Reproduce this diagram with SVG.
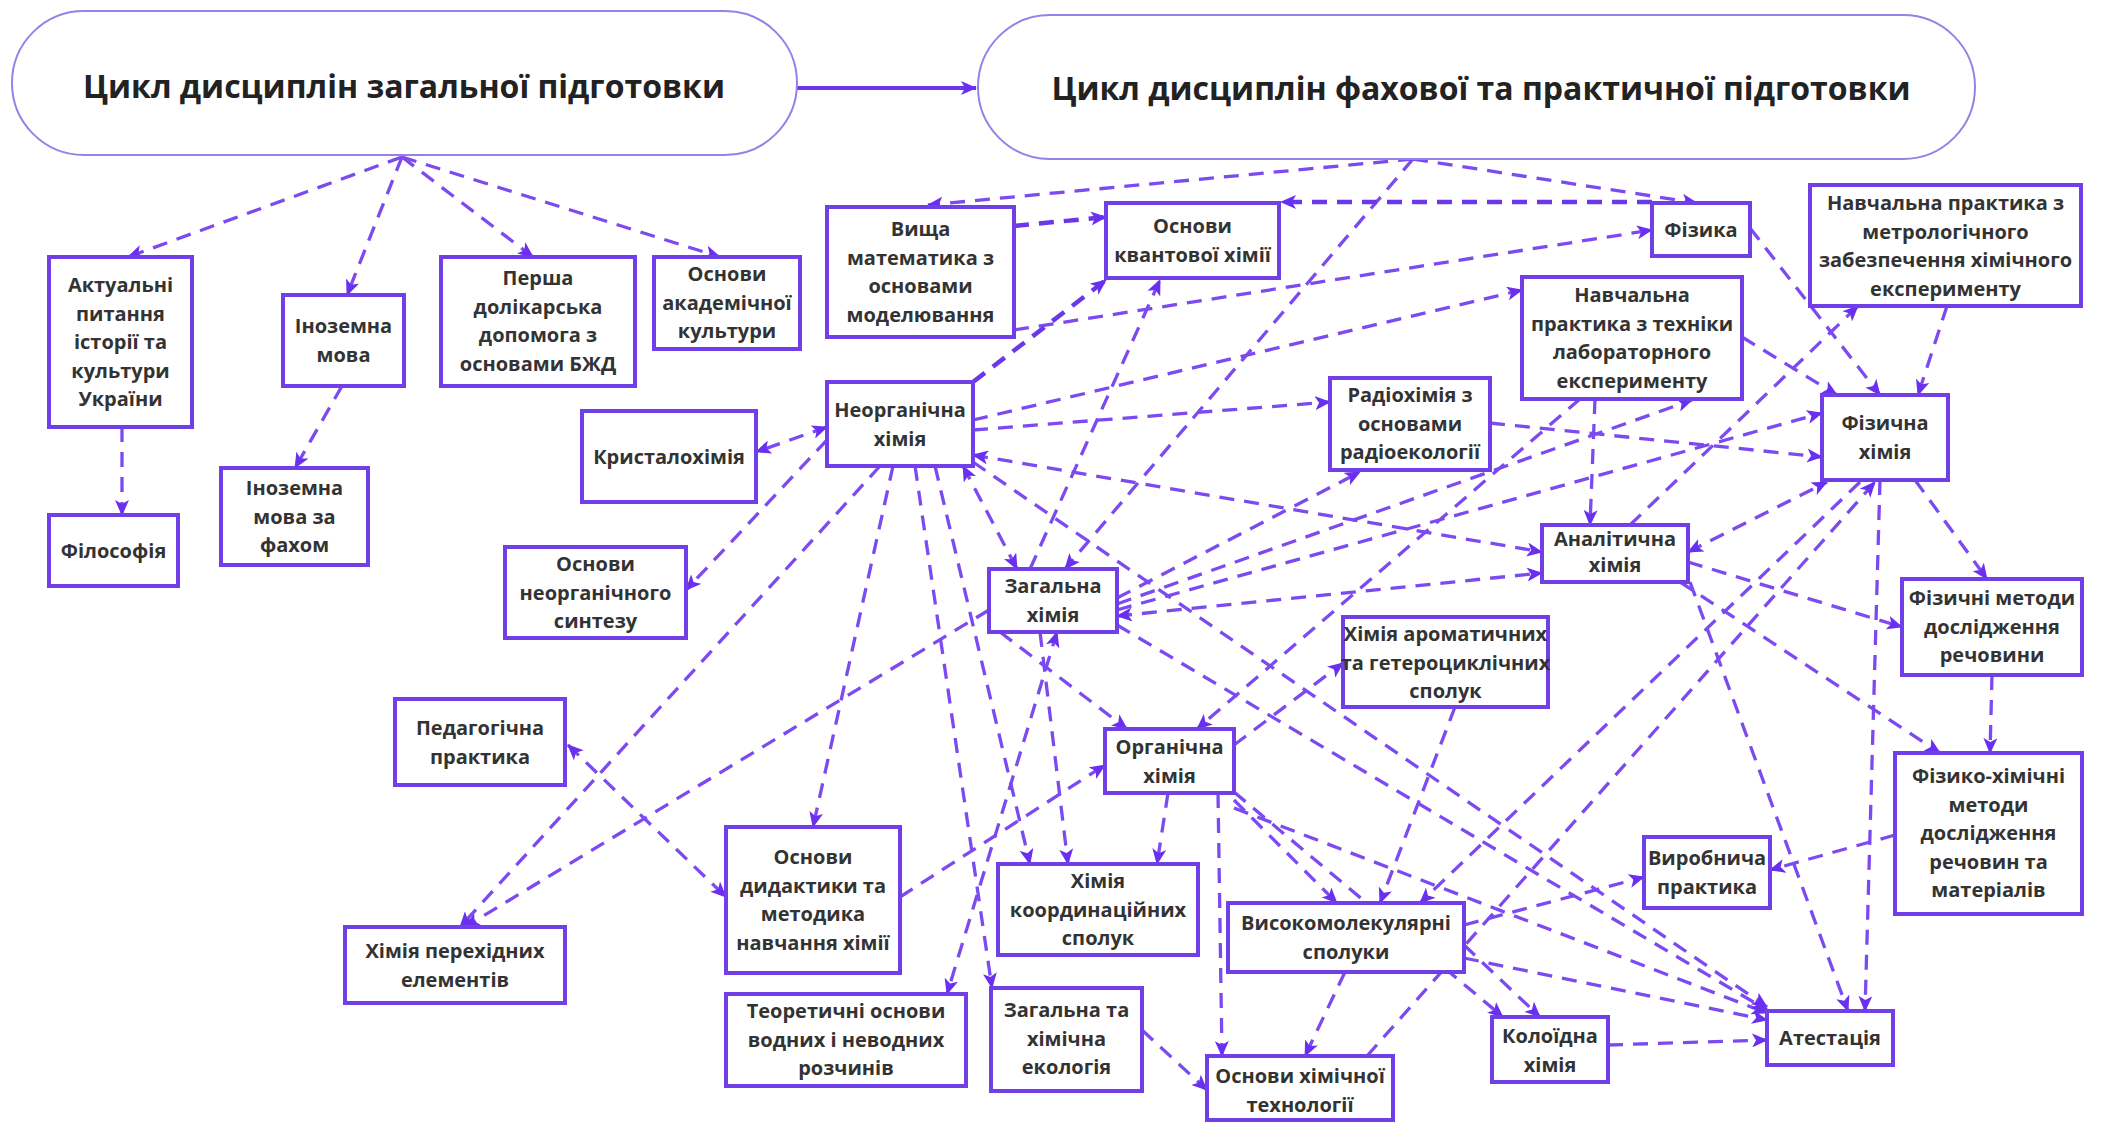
<svg xmlns="http://www.w3.org/2000/svg" width="2105" height="1126" viewBox="0 0 2105 1126">
<defs>
<marker id="ah" viewBox="0 0 16 14" refX="15" refY="7" markerWidth="16" markerHeight="14" markerUnits="userSpaceOnUse" orient="auto-start-reverse">
<path d="M0,0 L16,7 L0,14 L4,7 Z" fill="#6a2ff0"/>
</marker>
</defs>
<style>
.pill{fill:#fff;stroke:#9a7fe6;stroke-width:2}
.ttl{font-family:"Open Sans","Noto Sans",sans-serif;font-weight:700;font-size:32px;fill:#222;text-anchor:middle}
.box{fill:#fff;stroke:#7040e6;stroke-width:4}
.lbl{font-family:"Open Sans","Noto Sans",sans-serif;font-weight:700;font-size:20px;fill:#333;text-anchor:middle}
.e{fill:none;stroke:#7b4af0;stroke-width:3.3;stroke-dasharray:15 10;marker-end:url(#ah)}
.b{marker-start:url(#ah)}
.t{stroke-width:4.5;stroke:#6a38e8}
.solid{fill:none;stroke:#6a38e8;stroke-width:4;marker-end:url(#ah)}
</style>
<rect width="2105" height="1126" fill="#fff"/>

<g id="connectors">
<path class="solid" d="M797,88 L976,88"/>
<path class="e" d="M402,157 L128,257"/>
<path class="e" d="M402,157 L347,295"/>
<path class="e" d="M402,157 L533,257"/>
<path class="e" d="M402,157 L720,257"/>
<path class="e" d="M122,427 L122,515"/>
<path class="e" d="M342,386 L295,468"/>
<path class="e" d="M1413,159 L928,205"/>
<path class="e" d="M1413,159 L1697,203"/>
<path class="e" d="M1413,159 L1065,569"/>
<path class="e t" d="M1652,202 L1281,202"/>
<path class="e t" d="M1014,226 L1106,217"/>
<path class="e" d="M1014,330 L1652,230"/>
<path class="e t" d="M973,382 L1106,280"/>
<path class="e" d="M1030,569 L1160,280"/>
<path class="e" d="M973,420 L1522,290"/>
<path class="e" d="M973,430 L1330,402"/>
<path class="e b" d="M973,455 L1542,552"/>
<path class="e" d="M1117,598 L1360,472"/>
<path class="e" d="M1117,604 L1692,400"/>
<path class="e" d="M1117,610 L1822,413"/>
<path class="e b" d="M1117,616 L1542,573"/>
<path class="e" d="M1490,423 L1822,457"/>
<path class="e" d="M1595,399 L1590,525"/>
<path class="e" d="M1630,525 L1858,306"/>
<path class="e" d="M1750,228 L1880,395"/>
<path class="e" d="M1742,337 L1837,395"/>
<path class="e" d="M1947,306 L1918,395"/>
<path class="e" d="M1915,480 L1987,579"/>
<path class="e" d="M1992,675 L1990,753"/>
<path class="e" d="M1688,562 L1902,627"/>
<path class="e" d="M1680,582 L1940,753"/>
<path class="e" d="M1690,582 L1848,1011"/>
<path class="e" d="M1880,480 L1865,1011"/>
<path class="e" d="M1895,835 L1770,870"/>
<path class="e b" d="M1688,552 L1827,482"/>
<path class="e" d="M1860,482 L1420,903"/>
<path class="e" d="M1367,1056 L1875,482"/>
<path class="e" d="M1464,925 L1644,877"/>
<path class="e" d="M1464,945 L1540,1017"/>
<path class="e" d="M1464,958 L1767,1020"/>
<path class="e" d="M1345,972 L1305,1056"/>
<path class="e" d="M1218,793 L1222,1056"/>
<path class="e" d="M1142,1030 L1207,1090"/>
<path class="e" d="M1608,1045 L1767,1040"/>
<path class="e" d="M1234,800 L1337,903"/>
<path class="e" d="M1234,808 L1767,1013"/>
<path class="e" d="M1234,792 L1503,1017"/>
<path class="e" d="M1455,707 L1380,903"/>
<path class="e" d="M1234,745 L1343,663"/>
<path class="e" d="M1000,632 L1127,729"/>
<path class="e" d="M1580,399 L1197,729"/>
<path class="e" d="M1040,632 L1068,864"/>
<path class="e" d="M1168,793 L1157,864"/>
<path class="e b" d="M1057,632 L947,994"/>
<path class="e" d="M880,466 L460,927"/>
<path class="e" d="M989,610 L465,927"/>
<path class="e" d="M893,466 L813,827"/>
<path class="e" d="M915,466 L992,988"/>
<path class="e" d="M935,466 L1030,864"/>
<path class="e b" d="M568,745 L726,897"/>
<path class="e" d="M900,897 L1105,765"/>
<path class="e b" d="M827,427 L756,452"/>
<path class="e" d="M827,440 L686,590"/>
<path class="e b" d="M963,466 L1017,569"/>
<path class="e" d="M973,462 L1767,1007"/>
<path class="e" d="M1117,625 L1767,1010"/>
</g>

<g id="pill1"><rect class="pill" x="12" y="11" width="785" height="144" rx="72"/><text class="ttl" x="404" y="98">Цикл дисциплін загальної підготовки</text></g>
<g id="pill2"><rect class="pill" x="978" y="15" width="997" height="144" rx="72"/><text class="ttl" x="1481" y="100">Цикл дисциплін фахової та практичної підготовки</text></g>

<g id="n_aktualni"><rect class="box" x="49" y="257" width="143" height="170"/><text class="lbl" x="120.5" y="292">Актуальні<tspan x="120.5" dy="28.5">питання</tspan><tspan x="120.5" dy="28.5">історії та</tspan><tspan x="120.5" dy="28.5">культури</tspan><tspan x="120.5" dy="28.5">України</tspan></text></g>
<g id="n_inozemna"><rect class="box" x="283" y="295" width="121" height="91"/><text class="lbl" x="343.5" y="333">Іноземна<tspan x="343.5" dy="28.5">мова</tspan></text></g>
<g id="n_persha"><rect class="box" x="441" y="257" width="194" height="129"/><text class="lbl" x="538" y="285">Перша<tspan x="538" dy="28.5">долікарська</tspan><tspan x="538" dy="28.5">допомога з</tspan><tspan x="538" dy="28.5">основами БЖД</tspan></text></g>
<g id="n_akadem"><rect class="box" x="654" y="257" width="146" height="92"/><text class="lbl" x="727" y="281">Основи<tspan x="727" dy="28.5">академічної</tspan><tspan x="727" dy="28.5">культури</tspan></text></g>
<g id="n_vyshcha"><rect class="box" x="827" y="207" width="187" height="130"/><text class="lbl" x="920.5" y="236">Вища<tspan x="920.5" dy="28.5">математика з</tspan><tspan x="920.5" dy="28.5">основами</tspan><tspan x="920.5" dy="28.5">моделювання</tspan></text></g>
<g id="n_kvant"><rect class="box" x="1106" y="203" width="173" height="75"/><text class="lbl" x="1192.5" y="233">Основи<tspan x="1192.5" dy="28.5">квантової хімії</tspan></text></g>
<g id="n_fizyka"><rect class="box" x="1652" y="203" width="98" height="53"/><text class="lbl" x="1701" y="237">Фізика</text></g>
<g id="n_metrol"><rect class="box" x="1810" y="185" width="271" height="121"/><text class="lbl" x="1945.5" y="210">Навчальна практика з<tspan x="1945.5" dy="28.5">метрологічного</tspan><tspan x="1945.5" dy="28.5">забезпечення хімічного</tspan><tspan x="1945.5" dy="28.5">експерименту</tspan></text></g>
<g id="n_tekhn"><rect class="box" x="1522" y="277" width="220" height="122"/><text class="lbl" x="1632" y="302">Навчальна<tspan x="1632" dy="28.5">практика з техніки</tspan><tspan x="1632" dy="28.5">лабораторного</tspan><tspan x="1632" dy="28.5">експерименту</tspan></text></g>
<g id="n_filos"><rect class="box" x="49" y="515" width="129" height="71"/><text class="lbl" x="113.5" y="558">Філософія</text></g>
<g id="n_inozfah"><rect class="box" x="221" y="468" width="147" height="97"/><text class="lbl" x="294.5" y="495">Іноземна<tspan x="294.5" dy="28.5">мова за</tspan><tspan x="294.5" dy="28.5">фахом</tspan></text></g>
<g id="n_kryst"><rect class="box" x="582" y="411" width="174" height="91"/><text class="lbl" x="669" y="464">Кристалохімія</text></g>
<g id="n_neorg"><rect class="box" x="827" y="382" width="146" height="84"/><text class="lbl" x="900" y="417">Неорганічна<tspan x="900" dy="28.5">хімія</tspan></text></g>
<g id="n_synt"><rect class="box" x="505" y="547" width="181" height="91"/><text class="lbl" x="595.5" y="571">Основи<tspan x="595.5" dy="28.5">неорганічного</tspan><tspan x="595.5" dy="28.5">синтезу</tspan></text></g>
<g id="n_radio"><rect class="box" x="1330" y="378" width="160" height="92"/><text class="lbl" x="1410" y="402">Радіохімія з<tspan x="1410" dy="28.5">основами</tspan><tspan x="1410" dy="28.5">радіоекології</tspan></text></g>
<g id="n_fizchem"><rect class="box" x="1822" y="395" width="126" height="85"/><text class="lbl" x="1885" y="430">Фізична<tspan x="1885" dy="28.5">хімія</tspan></text></g>
<g id="n_anal"><rect class="box" x="1542" y="525" width="146" height="57"/><text class="lbl" x="1615" y="546">Аналітична<tspan x="1615" dy="26">хімія</tspan></text></g>
<g id="n_zag"><rect class="box" x="989" y="569" width="128" height="63"/><text class="lbl" x="1053" y="593">Загальна<tspan x="1053" dy="28.5">хімія</tspan></text></g>
<g id="n_arom"><rect class="box" x="1343" y="617" width="205" height="90"/><text class="lbl" x="1445.5" y="641">Хімія ароматичних<tspan x="1445.5" dy="28.5">та гетероциклічних</tspan><tspan x="1445.5" dy="28.5">сполук</tspan></text></g>
<g id="n_fizmet"><rect class="box" x="1902" y="579" width="180" height="96"/><text class="lbl" x="1992" y="605">Фізичні методи<tspan x="1992" dy="28.5">дослідження</tspan><tspan x="1992" dy="28.5">речовини</tspan></text></g>
<g id="n_ped"><rect class="box" x="395" y="699" width="170" height="86"/><text class="lbl" x="480" y="735">Педагогічна<tspan x="480" dy="28.5">практика</tspan></text></g>
<g id="n_org"><rect class="box" x="1105" y="729" width="129" height="64"/><text class="lbl" x="1169.5" y="754">Органічна<tspan x="1169.5" dy="28.5">хімія</tspan></text></g>
<g id="n_fizkhim"><rect class="box" x="1895" y="753" width="187" height="161"/><text class="lbl" x="1988.5" y="783">Фізико-хімічні<tspan x="1988.5" dy="28.5">методи</tspan><tspan x="1988.5" dy="28.5">дослідження</tspan><tspan x="1988.5" dy="28.5">речовин та</tspan><tspan x="1988.5" dy="28.5">матеріалів</tspan></text></g>
<g id="n_did"><rect class="box" x="726" y="827" width="174" height="146"/><text class="lbl" x="813" y="864">Основи<tspan x="813" dy="28.5">дидактики та</tspan><tspan x="813" dy="28.5">методика</tspan><tspan x="813" dy="28.5">навчання хімії</tspan></text></g>
<g id="n_koord"><rect class="box" x="998" y="864" width="200" height="91"/><text class="lbl" x="1098" y="888">Хімія<tspan x="1098" dy="28.5">координаційних</tspan><tspan x="1098" dy="28.5">сполук</tspan></text></g>
<g id="n_vyrob"><rect class="box" x="1644" y="837" width="126" height="71"/><text class="lbl" x="1707" y="865">Виробнича<tspan x="1707" dy="28.5">практика</tspan></text></g>
<g id="n_vysok"><rect class="box" x="1228" y="903" width="236" height="69"/><text class="lbl" x="1346" y="930">Високомолекулярні<tspan x="1346" dy="28.5">сполуки</tspan></text></g>
<g id="n_perekh"><rect class="box" x="345" y="927" width="220" height="76"/><text class="lbl" x="455" y="958">Хімія перехідних<tspan x="455" dy="28.5">елементів</tspan></text></g>
<g id="n_teor"><rect class="box" x="726" y="994" width="240" height="92"/><text class="lbl" x="846" y="1018">Теоретичні основи<tspan x="846" dy="28.5">водних і неводних</tspan><tspan x="846" dy="28.5">розчинів</tspan></text></g>
<g id="n_ekol"><rect class="box" x="991" y="988" width="151" height="103"/><text class="lbl" x="1066.5" y="1017">Загальна та<tspan x="1066.5" dy="28.5">хімічна</tspan><tspan x="1066.5" dy="28.5">екологія</tspan></text></g>
<g id="n_kolo"><rect class="box" x="1492" y="1017" width="116" height="65"/><text class="lbl" x="1550" y="1043">Колоїдна<tspan x="1550" dy="28.5">хімія</tspan></text></g>
<g id="n_atest"><rect class="box" x="1767" y="1011" width="126" height="54"/><text class="lbl" x="1830" y="1045">Атестація</text></g>
<g id="n_tekhnol"><rect class="box" x="1207" y="1056" width="186" height="64"/><text class="lbl" x="1300" y="1083">Основи хімічної<tspan x="1300" dy="28.5">технології</tspan></text></g>
</svg>
